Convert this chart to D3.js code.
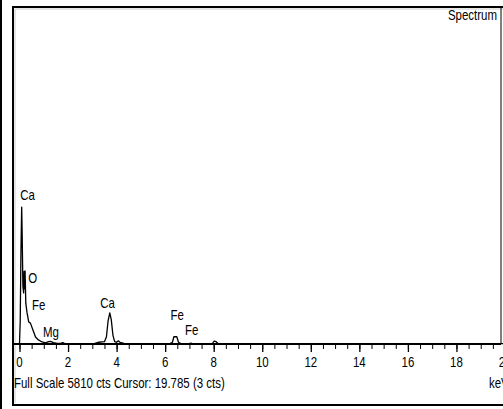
<!DOCTYPE html>
<html><head><meta charset="utf-8">
<script src="https://cdn.jsdelivr.net/npm/d3@7"></script>
<style>
html,body{margin:0;padding:0;background:#fff;overflow:hidden}
text{font-family:"Liberation Sans",Arial,sans-serif;fill:#000}
</style></head><body>
<svg id="c" width="503" height="409"></svg>
<script>
// Spectrum (keV, counts)
const energy = [0.00,0.03,0.06,0.09,0.11,0.14,0.17,0.19,0.21,0.23,0.26,0.31,0.38,0.45,0.58,0.66,0.78,0.93,1.07,1.20,1.28,1.40,1.55,1.70,1.78,1.85,2.50,3.10,3.25,3.50,3.58,3.65,3.72,3.78,3.85,3.92,4.00,4.07,4.14,4.30,6.20,6.30,6.36,6.48,6.55,6.65,7.00,7.06,7.12,7.95,8.02,8.10,8.18,20.0];
const counts = [0,400,1600,2360,1900,1000,880,1250,950,1260,700,540,380,360,210,120,70,35,20,40,45,25,12,10,25,10,8,10,30,40,120,400,535,420,150,40,30,55,30,10,8,30,125,125,30,8,8,15,8,10,50,40,8,5];
// Peak labels
const peakNames = ["Ca","O","Fe","Mg","Ca","Fe","Fe"];
const peakLabelKeV = [0.03,0.36,0.52,0.97,3.33,6.22,6.82];
const peakLabelCts = [2483,1052,586,121,620,414,155];
// Axis ticks
const majorTicks = [0,2,4,6,8,10,12,14,16,18,20];
const minorTicks = d3.range(0,20.01,0.5);
const fullScale = 5810;
const titleText = "Spectrum";
const footerText = "Full Scale 5810 cts Cursor: 19.785  (3 cts)";
const unitText = "keV";

const FS = 14;
const svg = d3.select("#c");
const x = d3.scaleLinear().domain([0,20]).range([19.5,505]);
const y = d3.scaleLinear().domain([0,fullScale]).range([344,7]);

// frame
svg.append("line").attr("x1",1).attr("x2",1).attr("y1",0).attr("y2",409).attr("stroke","#000").attr("stroke-width",2);
svg.append("line").attr("x1",12).attr("x2",503).attr("y1",7).attr("y2",7).attr("stroke","#000").attr("stroke-width",2);
svg.append("line").attr("x1",13).attr("x2",13).attr("y1",6).attr("y2",406).attr("stroke","#000").attr("stroke-width",2);
svg.append("line").attr("x1",12).attr("x2",503).attr("y1",405).attr("y2",405).attr("stroke","#000").attr("stroke-width",2);
svg.append("line").attr("x1",15).attr("x2",503).attr("y1",9).attr("y2",9).attr("stroke","#ccc").attr("stroke-width",1);
svg.append("line").attr("x1",15).attr("x2",15).attr("y1",9).attr("y2",403).attr("stroke","#ccc").attr("stroke-width",1);
svg.append("line").attr("x1",501).attr("x2",501).attr("y1",7).attr("y2",344).attr("stroke","#000").attr("stroke-width",1);

// spectrum
const line = d3.line().x((d,i)=>x(energy[i])).y(d=>y(d));
svg.append("path").datum(counts).attr("d",line).attr("fill","none").attr("stroke","#000").attr("stroke-width",1.3).attr("stroke-linejoin","round");

// condensed text helper
function ctext(parent, tx, ty, str, anchor, sx){
  const g = parent.append("g").attr("transform",`translate(${tx},${ty}) scale(${sx},1)`);
  return g.append("text").attr("x",0).attr("y",0).attr("text-anchor",anchor||"start").attr("font-size",FS).text(str);
}

// footer: measure & compute condensation
const tmp = svg.append("text").attr("font-size",FS).text(footerText);
const SX = 211/tmp.node().getComputedTextLength();
tmp.remove();

// axes
const gMinor = svg.append("g").attr("transform","translate(0,344)")
  .call(d3.axisBottom(x).tickValues(minorTicks).tickSize(5).tickFormat(""));
gMinor.select(".domain").remove();
gMinor.selectAll("line").attr("stroke","#000").attr("stroke-width",1);
const gMajor = svg.append("g").attr("transform","translate(0,344)")
  .call(d3.axisBottom(x).tickValues(majorTicks).tickSize(8).tickFormat(""));
gMajor.select(".domain").remove();
gMajor.selectAll("line").attr("stroke","#000").attr("stroke-width",1.3);
const gLab = svg.append("g");
majorTicks.forEach(t=>ctext(gLab, x(t), 367, d3.format("d")(t), "middle", SX));
svg.append("line").attr("x1",13).attr("x2",501).attr("y1",344).attr("y2",344).attr("stroke","#000").attr("stroke-width",2);

// peak labels
const gPk = svg.append("g");
peakNames.forEach((n,i)=>ctext(gPk, x(peakLabelKeV[i]), y(peakLabelCts[i]), n, "start", SX));

ctext(svg, 497, 20, titleText, "end", SX);
ctext(svg, 14, 388, footerText, "start", SX);
ctext(svg, 489, 388, unitText, "start", SX);
</script>
</body></html>
